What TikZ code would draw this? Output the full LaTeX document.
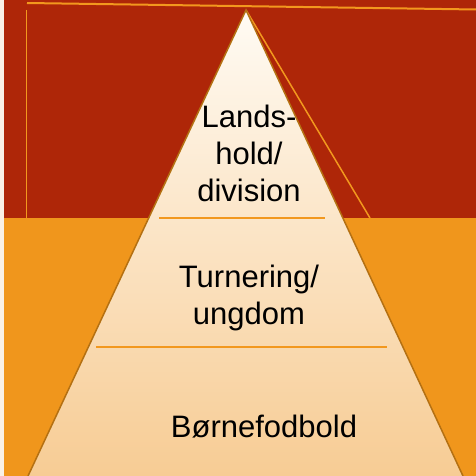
\documentclass[tikz,border=0pt]{standalone}
\usepackage{fontspec}
\setmainfont{Liberation Sans}
\definecolor{bgred}{RGB}{174,38,8}
\definecolor{bgorange}{RGB}{240,150,28}
\definecolor{cream}{RGB}{250,241,230}
\definecolor{edgebrown}{RGB}{180,112,18}
\definecolor{lineorange}{RGB}{242,152,30}
\definecolor{pyrtop}{RGB}{255,251,244}
\definecolor{pyrbot}{RGB}{247,204,148}
\tikzstyle{level} = [font=\fontsize{31}{37}\selectfont, align=center, text=black, inner sep=0pt]
\tikzstyle{divider} = [lineorange, line width=1.5pt]
\tikzstyle{frame} = [lineorange, line width=2pt]

\begin{document}
\begin{tikzpicture}[x=1pt,y=-1pt]
        \useasboundingbox (0,0) rectangle (476,476);
        \fill[cream] (0,0) rectangle (4,476);
        \fill[bgred] (4,0) rectangle (476,218);
        \fill[bgorange] (4,218) rectangle (476,476);

        \coordinate (apex) at (246,10);
        \coordinate (bl) at (28,476);
        \coordinate (br) at (463,476);
        \coordinate (ftl) at (27,3);
        \coordinate (ftr) at (476,9.5);
        \coordinate (fvt) at (26.5,10);
        \coordinate (fvb) at (26.5,218);
        \coordinate (shadow) at (370,218);

        \draw[frame] (ftl) -- (ftr);
        \draw[frame, line width=1.5pt] (fvt) -- (fvb);
        \draw[frame, line width=1.5pt] (apex) -- (shadow);

        \shade[top color=pyrtop, bottom color=pyrbot] (apex) -- (bl) -- (br) -- cycle;
        \draw[edgebrown, line width=1.5pt] (bl) -- (apex) -- (br);

        \coordinate (d1l) at (159,218);
        \coordinate (d1r) at (325,218);
        \coordinate (d2l) at (96,347);
        \coordinate (d2r) at (387,347);
        \draw[divider] (d1l) -- (d1r);
        \draw[divider] (d2l) -- (d2r);

        \node[level] at (249,153.5) (elite) {Lands-\\hold/\\division};
        \node[level] at (249,297.5) (youth) {Turnering/\\ungdom};
        \node[level] at (264,427) (kids) {Børnefodbold};

    \end{tikzpicture}
\end{document}
